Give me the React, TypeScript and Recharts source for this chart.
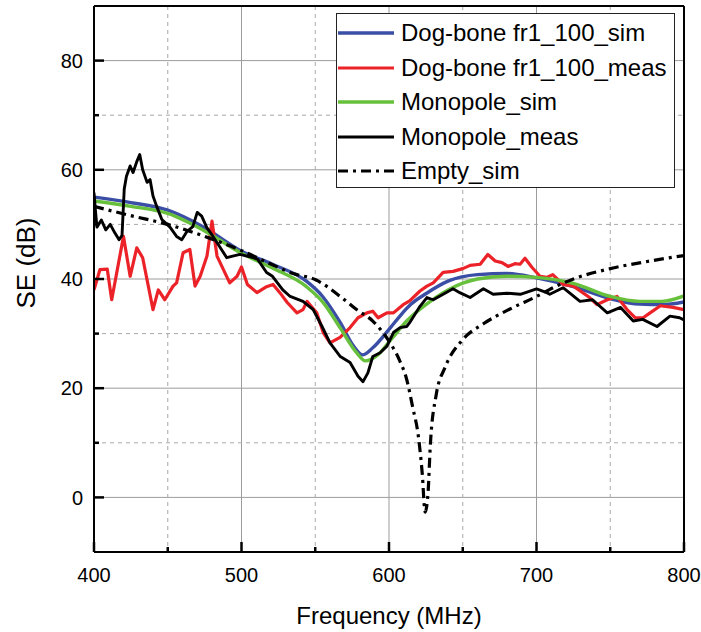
import React from "react";
import { LineChart, Line, XAxis, YAxis, CartesianGrid, Legend } from "recharts";

// axis ticks
const xMajor = [400, 500, 600, 700, 800];
const xMinor = [450, 550, 650, 750];
const xAll = [400, 450, 500, 550, 600, 650, 700, 750, 800];
const yMajor = [0, 20, 40, 60, 80];
const yMinor = [10, 30, 50, 70];
const yAll = [0, 10, 20, 30, 40, 50, 60, 70, 80];

// Dog-bone fr1_100_sim
const dogSimF = [400, 425, 450, 475, 500, 521, 544, 555, 567, 576, 582, 589, 601, 608, 615, 625, 640, 660, 680, 700, 725, 750, 770, 785, 800];
const dogSimSE = [55.0, 54.0, 52.6, 49.4, 45.1, 42.7, 39.6, 36.8, 32.0, 27.7, 26.1, 27.4, 31.1, 33.4, 35.4, 37.3, 39.6, 40.8, 41.0, 40.2, 38.6, 36.4, 35.4, 35.3, 35.8];

// Dog-bone fr1_100_meas
const dogMeasF = [400, 404, 409, 412, 420, 424.5, 429, 433, 440, 443.6, 448, 453.6, 456, 460.4, 465, 468.5, 472, 476.6, 480, 483.4, 492, 497, 500, 504, 510.5, 517, 521.4, 526, 531, 537.6, 541.7, 544.4, 551, 555.4, 560, 566.8, 573.6, 579, 585, 589, 592.6, 598.6, 603, 609.6, 614, 621, 625.7, 630, 636.7, 643.4, 650, 655, 661.8, 667, 672, 676.6, 680.7, 685.4, 688.8, 692.2, 697, 702.4, 707, 711, 718, 725, 736, 741, 748, 754.6, 761.4, 767, 772.3, 777, 784, 792.6, 800];
const dogMeasSE = [38.0, 41.7, 41.8, 36.2, 47.8, 40.5, 45.7, 43.9, 34.4, 38.0, 36.2, 38.7, 39.3, 44.8, 45.4, 38.7, 40.5, 44.2, 50.6, 44.2, 39.3, 40.5, 42.2, 39.0, 37.5, 38.6, 39.0, 37.5, 35.7, 33.8, 34.4, 35.9, 33.8, 30.2, 28.3, 29.3, 31.1, 32.9, 33.8, 34.1, 32.9, 33.8, 33.8, 35.3, 36.0, 37.8, 38.7, 39.3, 41.2, 41.4, 41.9, 42.5, 42.7, 44.5, 43.3, 43.0, 42.3, 42.8, 42.7, 43.8, 42.1, 40.5, 40.3, 40.8, 39.0, 38.7, 36.6, 35.3, 36.2, 36.8, 34.4, 32.9, 32.9, 33.8, 35.1, 34.8, 34.4];

// Monopole_sim
const monoSimF = [400, 425, 450, 475, 500, 521, 544, 555, 567, 578, 584, 592, 601, 612, 625, 640, 660, 680, 700, 725, 750, 770, 785, 800];
const monoSimSE = [54.3, 53.3, 52.0, 48.8, 44.7, 42.0, 38.6, 35.8, 31.0, 26.5, 25.0, 26.0, 28.8, 32.3, 35.3, 38.0, 40.0, 40.5, 40.3, 39.2, 36.8, 35.9, 35.9, 36.9];

// Monopole_meas
const monoMeasF = [400, 401, 402, 405, 408, 411, 414, 417, 419, 420.5, 422, 424.5, 426.5, 429, 431, 433, 436, 438, 440, 442.5, 446, 451.5, 456, 459.5, 463, 467, 470, 473, 476.5, 480.7, 485, 490, 494, 499, 503.7, 508, 511, 517, 521, 528, 533, 541.7, 548.6, 554.6, 560, 567, 573.6, 579, 582.4, 585.7, 589, 594, 598.6, 603, 607.5, 612, 614, 621, 625.7, 630, 636.7, 643.4, 648, 655, 664, 670.6, 680, 689, 695.6, 700, 707, 709, 718, 729.5, 738, 748, 757, 765.6, 772, 781.7, 790.5, 797, 800];
const monoMeasSE = [55.8, 52.5, 49.5, 50.8, 49.0, 50.0, 48.5, 47.2, 48.0, 56.5, 58.8, 60.7, 59.5, 61.5, 62.8, 60.0, 57.7, 58.2, 55.2, 53.3, 50.9, 49.5, 47.8, 47.2, 48.7, 49.6, 52.2, 51.5, 49.4, 47.8, 46.0, 43.9, 44.2, 44.5, 44.2, 43.9, 43.6, 41.2, 40.5, 38.0, 36.8, 35.9, 34.4, 31.3, 28.3, 25.8, 24.7, 22.2, 21.2, 22.8, 25.8, 26.5, 27.7, 30.2, 31.1, 31.3, 32.0, 35.0, 36.6, 36.2, 37.2, 38.2, 37.5, 36.6, 38.2, 37.2, 37.4, 37.2, 37.8, 38.2, 37.5, 37.2, 38.4, 35.9, 36.2, 33.8, 34.8, 32.3, 32.6, 31.3, 33.2, 32.9, 32.5];

// Empty_sim
const emptyF = [400, 425, 450, 475, 500, 521, 535, 550, 567, 578, 589, 600, 607, 612, 616, 620, 622.5, 624.5, 626.5, 628, 632, 638, 650, 664, 682, 700, 712, 725, 750, 775, 800];
const emptySE = [53.3, 51.6, 50.0, 47.8, 45.2, 42.6, 41.0, 39.9, 36.8, 34.4, 32.3, 28.6, 25.2, 21.6, 16.6, 11.0, 4.5, -2.7, 1.0, 9.5, 18.8, 23.8, 28.9, 31.8, 34.5, 36.8, 38.5, 40.0, 41.9, 43.2, 44.3];

const pair = (f: number[], v: number[]) => f.map((x, i) => ({ x, y: v[i] }));

const series = [
  { name: "Dog-bone fr1_100_sim", data: pair(dogSimF, dogSimSE), color: "#3b4ea5", width: 3.4, dash: undefined, type: "monotone" },
  { name: "Dog-bone fr1_100_meas", data: pair(dogMeasF, dogMeasSE), color: "#ec2229", width: 3.2, dash: undefined, type: "linear" },
  { name: "Monopole_sim", data: pair(monoSimF, monoSimSE), color: "#67c03b", width: 3.4, dash: undefined, type: "monotone" },
  { name: "Monopole_meas", data: pair(monoMeasF, monoMeasSE), color: "#000000", width: 2.9, dash: undefined, type: "linear" },
  { name: "Empty_sim", data: pair(emptyF, emptySE), color: "#000000", width: 3.2, dash: "10 5 3 5", type: "monotone" },
];

const FONT = '"Liberation Sans", Arial, sans-serif';

function XTick(props: any) {
  const { x, y, payload } = props;
  const major = xMajor.includes(payload.value);
  const axisY = y - 16;
  return (
    <g>
      <line x1={x} x2={x} y1={axisY} y2={axisY - (major ? 10 : 5)} stroke="#000" strokeWidth={2.5} />
      {major && (
        <text x={x} y={y} dy="0.71em" textAnchor="middle" fontSize={20} fill="#000">
          {payload.value}
        </text>
      )}
    </g>
  );
}

function YTick(props: any) {
  const { x, y, payload } = props;
  const major = yMajor.includes(payload.value);
  const axisX = x + 11;
  return (
    <g>
      <line x1={axisX} x2={axisX + (major ? 10 : 5)} y1={y} y2={y} stroke="#000" strokeWidth={2.5} />
      {major && (
        <text x={x} y={y} dy="0.355em" textAnchor="end" fontSize={20} fill="#000">
          {payload.value}
        </text>
      )}
    </g>
  );
}

function LegendBox() {
  return (
    <div
      style={{
        border: "1.5px solid #222",
        background: "#fff",
        width: 339,
        height: 175,
        boxSizing: "border-box",
        paddingTop: 2,
        fontFamily: FONT,
      }}
    >
      {series.map((s) => (
        <div key={s.name} style={{ display: "flex", alignItems: "center", height: 34.5 }}>
          <svg width={56} height={8} style={{ marginLeft: 1, display: "block" }}>
            <line x1={0} x2={56} y1={4} y2={4} stroke={s.color} strokeWidth={s.width} strokeDasharray={s.dash} />
          </svg>
          <span style={{ marginLeft: 7, fontSize: 24, lineHeight: "34.5px", color: "#000", whiteSpace: "nowrap" }}>
            {s.name}
          </span>
        </div>
      ))}
    </div>
  );
}

export default function App() {
  return (
    <div style={{ position: "absolute", left: 0, top: 0, width: 701, height: 632, background: "#fff", fontFamily: FONT }}>
      <LineChart width={701} height={632} margin={{ top: 5, right: 16, bottom: 0, left: 34 }}>
        <CartesianGrid horizontalValues={yMajor} verticalValues={xMajor} stroke="#9c9c9c" strokeWidth={1} />
        <CartesianGrid horizontalValues={yMinor} verticalValues={xMinor} stroke="#a8a8a8" strokeWidth={1} strokeDasharray="4 4" />
        <XAxis
          dataKey="x"
          type="number"
          domain={[400, 800]}
          ticks={xAll}
          interval={0}
          allowDataOverflow
          height={80}
          tickSize={0}
          tickMargin={16}
          tickLine={false}
          axisLine={{ stroke: "#000", strokeWidth: 2 }}
          tick={<XTick />}
          label={{ value: "Frequency (MHz)", position: "insideBottom", offset: 8, fontSize: 24, fill: "#000" }}
        />
        <YAxis
          type="number"
          domain={[-10, 90]}
          ticks={yAll}
          interval={0}
          allowDataOverflow
          width={60}
          tickSize={0}
          tickMargin={11}
          tickLine={false}
          axisLine={{ stroke: "#000", strokeWidth: 2 }}
          tick={<YTick />}
          label={{ value: "SE (dB)", angle: -90, position: "center", dx: -38, dy: -16, fontSize: 26, fill: "#000" }}
        />
        <XAxis
          xAxisId="top"
          orientation="top"
          type="number"
          domain={[400, 800]}
          height={1}
          tick={false}
          tickLine={false}
          axisLine={{ stroke: "#000", strokeWidth: 2 }}
        />
        <YAxis
          yAxisId="right"
          orientation="right"
          type="number"
          domain={[-10, 90]}
          width={1}
          tick={false}
          tickLine={false}
          axisLine={{ stroke: "#000", strokeWidth: 2 }}
        />
        <Legend
          layout="vertical"
          align="center"
          verticalAlign="middle"
          content={<LegendBox />}
          wrapperStyle={{ left: 336, top: 13, width: 339, height: 175 }}
        />
        {series.map((s) => (
          <Line
            key={s.name}
            data={s.data}
            dataKey="y"
            name={s.name}
            type={s.type as any}
            stroke={s.color}
            strokeWidth={s.width}
            strokeDasharray={s.dash}
            strokeLinejoin="round"
            dot={false}
            activeDot={false}
            isAnimationActive={false}
          />
        ))}
      </LineChart>
    </div>
  );
}
